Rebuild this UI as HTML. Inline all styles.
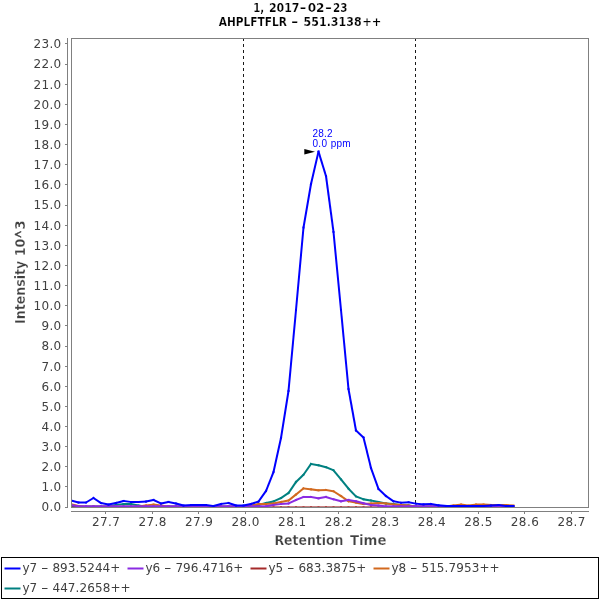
<!DOCTYPE html>
<html lang="en">
<head>
<meta charset="utf-8">
<title>AHPLFTFLR - 551.3138++ chromatogram</title>
<style>
html,body{margin:0;padding:0;background:#ffffff;}
body{width:600px;height:600px;overflow:hidden;}
svg{display:block;}
</style>
</head>
<body>
<svg width="600" height="600" viewBox="0 0 600 600">
<rect x="0" y="0" width="600" height="600" fill="#ffffff"/>
<g font-family="'DejaVu Sans Condensed', 'DejaVu Sans', 'Liberation Sans', sans-serif" font-weight="bold" font-size="12" fill="#000000" stroke="#ffffff" stroke-width="0.2">
<text y="12"><tspan x="253.2" textLength="11" lengthAdjust="spacingAndGlyphs">1,</tspan> <tspan x="268.9" textLength="30.6" lengthAdjust="spacingAndGlyphs">2017</tspan><tspan x="299.6" textLength="7" lengthAdjust="spacingAndGlyphs">-</tspan><tspan x="307.7" textLength="16.8" lengthAdjust="spacingAndGlyphs">02</tspan><tspan x="324.9" textLength="7" lengthAdjust="spacingAndGlyphs">-</tspan><tspan x="333" textLength="14.4" lengthAdjust="spacingAndGlyphs">23</tspan></text>
<text y="25.8"><tspan x="218.7" textLength="68.3" lengthAdjust="spacingAndGlyphs">AHPLFTFLR</tspan> <tspan x="290.9" textLength="7.4" lengthAdjust="spacingAndGlyphs">-</tspan> <tspan x="303.6" textLength="58" lengthAdjust="spacingAndGlyphs">551.3138</tspan><tspan x="362.2" textLength="19.2" lengthAdjust="spacingAndGlyphs">++</tspan></text>
</g>
<g fill="none" stroke="#808080" stroke-width="1" shape-rendering="crispEdges">
<line x1="67.5" y1="38" x2="67.5" y2="508"/>
<line x1="71" y1="511.5" x2="589" y2="511.5"/>
<line x1="65" y1="507.5" x2="67" y2="507.5"/>
<line x1="65" y1="486.5" x2="67" y2="486.5"/>
<line x1="65" y1="466.5" x2="67" y2="466.5"/>
<line x1="65" y1="446.5" x2="67" y2="446.5"/>
<line x1="65" y1="426.5" x2="67" y2="426.5"/>
<line x1="65" y1="406.5" x2="67" y2="406.5"/>
<line x1="65" y1="386.5" x2="67" y2="386.5"/>
<line x1="65" y1="366.5" x2="67" y2="366.5"/>
<line x1="65" y1="346.5" x2="67" y2="346.5"/>
<line x1="65" y1="325.5" x2="67" y2="325.5"/>
<line x1="65" y1="305.5" x2="67" y2="305.5"/>
<line x1="65" y1="285.5" x2="67" y2="285.5"/>
<line x1="65" y1="265.5" x2="67" y2="265.5"/>
<line x1="65" y1="245.5" x2="67" y2="245.5"/>
<line x1="65" y1="225.5" x2="67" y2="225.5"/>
<line x1="65" y1="205.5" x2="67" y2="205.5"/>
<line x1="65" y1="184.5" x2="67" y2="184.5"/>
<line x1="65" y1="164.5" x2="67" y2="164.5"/>
<line x1="65" y1="144.5" x2="67" y2="144.5"/>
<line x1="65" y1="124.5" x2="67" y2="124.5"/>
<line x1="65" y1="104.5" x2="67" y2="104.5"/>
<line x1="65" y1="84.5" x2="67" y2="84.5"/>
<line x1="65" y1="64.5" x2="67" y2="64.5"/>
<line x1="65" y1="43.5" x2="67" y2="43.5"/>
<line x1="105.5" y1="512" x2="105.5" y2="514"/>
<line x1="152.5" y1="512" x2="152.5" y2="514"/>
<line x1="198.5" y1="512" x2="198.5" y2="514"/>
<line x1="245.5" y1="512" x2="245.5" y2="514"/>
<line x1="292.5" y1="512" x2="292.5" y2="514"/>
<line x1="338.5" y1="512" x2="338.5" y2="514"/>
<line x1="385.5" y1="512" x2="385.5" y2="514"/>
<line x1="431.5" y1="512" x2="431.5" y2="514"/>
<line x1="478.5" y1="512" x2="478.5" y2="514"/>
<line x1="524.5" y1="512" x2="524.5" y2="514"/>
<line x1="571.5" y1="512" x2="571.5" y2="514"/>
</g>
<g font-family="'DejaVu Sans', 'Liberation Sans', sans-serif" font-size="12" fill="#404040">
<text x="41.4" y="511" textLength="19.8" lengthAdjust="spacing">0.0</text>
<text x="41.4" y="491" textLength="19.8" lengthAdjust="spacing">1.0</text>
<text x="41.4" y="471" textLength="19.8" lengthAdjust="spacing">2.0</text>
<text x="41.4" y="451" textLength="19.8" lengthAdjust="spacing">3.0</text>
<text x="41.4" y="431" textLength="19.8" lengthAdjust="spacing">4.0</text>
<text x="41.4" y="411" textLength="19.8" lengthAdjust="spacing">5.0</text>
<text x="41.4" y="391" textLength="19.8" lengthAdjust="spacing">6.0</text>
<text x="41.4" y="371" textLength="19.8" lengthAdjust="spacing">7.0</text>
<text x="41.4" y="350" textLength="19.8" lengthAdjust="spacing">8.0</text>
<text x="41.4" y="330" textLength="19.8" lengthAdjust="spacing">9.0</text>
<text x="33.4" y="310" textLength="27.8" lengthAdjust="spacing">10.0</text>
<text x="33.4" y="290" textLength="27.8" lengthAdjust="spacing">11.0</text>
<text x="33.4" y="270" textLength="27.8" lengthAdjust="spacing">12.0</text>
<text x="33.4" y="250" textLength="27.8" lengthAdjust="spacing">13.0</text>
<text x="33.4" y="230" textLength="27.8" lengthAdjust="spacing">14.0</text>
<text x="33.4" y="209" textLength="27.8" lengthAdjust="spacing">15.0</text>
<text x="33.4" y="189" textLength="27.8" lengthAdjust="spacing">16.0</text>
<text x="33.4" y="169" textLength="27.8" lengthAdjust="spacing">17.0</text>
<text x="33.4" y="149" textLength="27.8" lengthAdjust="spacing">18.0</text>
<text x="33.4" y="129" textLength="27.8" lengthAdjust="spacing">19.0</text>
<text x="33.4" y="109" textLength="27.8" lengthAdjust="spacing">20.0</text>
<text x="33.4" y="89" textLength="27.8" lengthAdjust="spacing">21.0</text>
<text x="33.4" y="68" textLength="27.8" lengthAdjust="spacing">22.0</text>
<text x="33.4" y="48" textLength="27.8" lengthAdjust="spacing">23.0</text>
<text x="91.9" y="526" textLength="28" lengthAdjust="spacing">27.7</text>
<text x="138.4" y="526" textLength="28" lengthAdjust="spacing">27.8</text>
<text x="185.0" y="526" textLength="28" lengthAdjust="spacing">27.9</text>
<text x="231.5" y="526" textLength="28" lengthAdjust="spacing">28.0</text>
<text x="278.1" y="526" textLength="28" lengthAdjust="spacing">28.1</text>
<text x="324.7" y="526" textLength="28" lengthAdjust="spacing">28.2</text>
<text x="371.2" y="526" textLength="28" lengthAdjust="spacing">28.3</text>
<text x="417.7" y="526" textLength="28" lengthAdjust="spacing">28.4</text>
<text x="464.3" y="526" textLength="28" lengthAdjust="spacing">28.5</text>
<text x="510.8" y="526" textLength="28" lengthAdjust="spacing">28.6</text>
<text x="557.4" y="526" textLength="28" lengthAdjust="spacing">28.7</text>
</g>
<g font-family="'DejaVu Sans Condensed', 'DejaVu Sans', 'Liberation Sans', sans-serif" font-weight="bold" font-size="14" fill="#404040" stroke="#ffffff" stroke-width="0.25">
<text y="544.7"><tspan x="274.5" textLength="69" lengthAdjust="spacingAndGlyphs">Retention</tspan> <tspan x="350" textLength="36.5" lengthAdjust="spacingAndGlyphs">Time</tspan></text>
<text transform="translate(25.2,324) rotate(-90)"><tspan x="0" y="0" textLength="85.2" lengthAdjust="spacingAndGlyphs">Intensity 10</tspan><tspan x="85.4" y="5.6" font-size="22" font-weight="normal" stroke="#404040" stroke-width="0.5" textLength="8.2" lengthAdjust="spacingAndGlyphs">^</tspan><tspan x="94.2" y="0" textLength="9.6" lengthAdjust="spacingAndGlyphs">3</tspan></text>
</g>
<g stroke="#1a1a1a" stroke-width="1" stroke-dasharray="3 3" shape-rendering="crispEdges">
<line x1="243.5" y1="38" x2="243.5" y2="507"/>
<line x1="415.5" y1="38" x2="415.5" y2="507"/>
</g>
<clipPath id="pc"><rect x="71" y="38" width="518" height="469"/></clipPath>
<g fill="none" stroke-width="2" stroke-linejoin="miter" stroke-linecap="square" clip-path="url(#pc)">
<g stroke="#008080">
<path d="M71 506.6L78.5 506.6"/>
<path d="M78.5 506.6L86 506.6"/>
<path d="M86 506.6L93.5 506.6"/>
<path d="M93.5 506.6L101 506.6"/>
<path d="M101 506.6L108.5 506.6"/>
<path d="M108.5 506.6L116 505"/>
<path d="M116 505L123.5 504"/>
<path d="M123.5 504L131 504"/>
<path d="M131 504L138.5 505.5"/>
<path d="M138.5 505.5L146 506.6"/>
<path d="M146 506.6L153.5 506.6"/>
<path d="M153.5 506.6L161 506.6"/>
<path d="M161 506.6L168.5 506.6"/>
<path d="M168.5 506.6L176 506.6"/>
<path d="M176 506.6L183.5 506.6"/>
<path d="M183.5 506.6L191 506.6"/>
<path d="M191 506.6L198.5 506.6"/>
<path d="M198.5 506.6L206 506.6"/>
<path d="M206 506.6L213.5 506.6"/>
<path d="M213.5 506.6L221 506.6"/>
<path d="M221 506.6L228.5 506.6"/>
<path d="M228.5 506.6L236 506.6"/>
<path d="M236 506.6L243.5 506.6"/>
<path d="M243.5 506.6L251 506.6"/>
<path d="M251 506.6L258.5 505"/>
<path d="M258.5 505L266 503"/>
<path d="M266 503L273.5 501.5"/>
<path d="M273.5 501.5L281 498"/>
<path d="M281 498L288.5 493"/>
<path d="M288.5 493L296 482"/>
<path d="M296 482L303.5 474.7"/>
<path d="M303.5 474.7L311 464"/>
<path d="M311 464L318.5 465.3"/>
<path d="M318.5 465.3L326 467.3"/>
<path d="M326 467.3L333.5 470.3"/>
<path d="M333.5 470.3L341 479.3"/>
<path d="M341 479.3L348.5 488.7"/>
<path d="M348.5 488.7L356 496.4"/>
<path d="M356 496.4L363.5 499.3"/>
<path d="M363.5 499.3L371 500.5"/>
<path d="M371 500.5L378.5 502"/>
<path d="M378.5 502L386 503.5"/>
<path d="M386 503.5L393.5 504"/>
<path d="M393.5 504L401 505"/>
<path d="M401 505L408.5 505.5"/>
<path d="M408.5 505.5L416 506.6"/>
<path d="M416 506.6L423.5 506.6"/>
<path d="M423.5 506.6L431 506.6"/>
<path d="M431 506.6L438.5 506.6"/>
<path d="M438.5 506.6L446 506.6"/>
<path d="M446 506.6L453.5 506.6"/>
<path d="M453.5 506.6L461 506.6"/>
<path d="M461 506.6L468.5 506.6"/>
<path d="M468.5 506.6L476 506.6"/>
<path d="M476 506.6L483.5 506.6"/>
<path d="M483.5 506.6L491 506.6"/>
<path d="M491 506.6L498.5 506.6"/>
<path d="M498.5 506.6L506 506.6"/>
<path d="M506 506.6L513.5 506.6"/>
</g>
<g stroke="#d2691e">
<path d="M71 504.2L78.5 506"/>
<path d="M78.5 506L86 506.6"/>
<path d="M86 506.6L93.5 506.6"/>
<path d="M93.5 506.6L101 506.6"/>
<path d="M101 506.6L108.5 506.6"/>
<path d="M108.5 506.6L116 506.6"/>
<path d="M116 506.6L123.5 506.6"/>
<path d="M123.5 506.6L131 506.6"/>
<path d="M131 506.6L138.5 506.6"/>
<path d="M138.5 506.6L146 505.5"/>
<path d="M146 505.5L153.5 504.5"/>
<path d="M153.5 504.5L161 505.5"/>
<path d="M161 505.5L168.5 506.6"/>
<path d="M168.5 506.6L176 506.6"/>
<path d="M176 506.6L183.5 506.6"/>
<path d="M183.5 506.6L191 506.6"/>
<path d="M191 506.6L198.5 506.6"/>
<path d="M198.5 506.6L206 506.6"/>
<path d="M206 506.6L213.5 506.6"/>
<path d="M213.5 506.6L221 506.6"/>
<path d="M221 506.6L228.5 506.6"/>
<path d="M228.5 506.6L236 506.6"/>
<path d="M236 506.6L243.5 506.6"/>
<path d="M243.5 506.6L251 505.5"/>
<path d="M251 505.5L258.5 504"/>
<path d="M258.5 504L266 504"/>
<path d="M266 504L273.5 503.5"/>
<path d="M273.5 503.5L281 502"/>
<path d="M281 502L288.5 500.5"/>
<path d="M288.5 500.5L296 494.5"/>
<path d="M296 494.5L303.5 488.4"/>
<path d="M303.5 488.4L311 489.3"/>
<path d="M311 489.3L318.5 490.3"/>
<path d="M318.5 490.3L326 490"/>
<path d="M326 490L333.5 491.3"/>
<path d="M333.5 491.3L341 496"/>
<path d="M341 496L348.5 501.3"/>
<path d="M348.5 501.3L356 502.7"/>
<path d="M356 502.7L363.5 504"/>
<path d="M363.5 504L371 503.5"/>
<path d="M371 503.5L378.5 503"/>
<path d="M378.5 503L386 503.5"/>
<path d="M386 503.5L393.5 504.5"/>
<path d="M393.5 504.5L401 505"/>
<path d="M401 505L408.5 505.5"/>
<path d="M408.5 505.5L416 506.6"/>
<path d="M416 506.6L423.5 506.6"/>
<path d="M423.5 506.6L431 506.6"/>
<path d="M431 506.6L438.5 506.6"/>
<path d="M438.5 506.6L446 506.6"/>
<path d="M446 506.6L453.5 505.5"/>
<path d="M453.5 505.5L461 504.5"/>
<path d="M461 504.5L468.5 505.5"/>
<path d="M468.5 505.5L476 504.5"/>
<path d="M476 504.5L483.5 504.5"/>
<path d="M483.5 504.5L491 505"/>
<path d="M491 505L498.5 505"/>
<path d="M498.5 505L506 505"/>
<path d="M506 505L513.5 505.5"/>
</g>
<g stroke="#a52a2a">
<path d="M71 507.4L78.5 507.4"/>
<path d="M78.5 507.4L86 507.4"/>
<path d="M86 507.4L93.5 507.4"/>
<path d="M93.5 507.4L101 507.4"/>
<path d="M101 507.4L108.5 507.4"/>
<path d="M108.5 507.4L116 507.4"/>
<path d="M116 507.4L123.5 507.4"/>
<path d="M123.5 507.4L131 507.4"/>
<path d="M131 507.4L138.5 507.4"/>
<path d="M138.5 507.4L146 507.4"/>
<path d="M146 507.4L153.5 507.4"/>
<path d="M153.5 507.4L161 507.4"/>
<path d="M161 507.4L168.5 507.4"/>
<path d="M168.5 507.4L176 507.4"/>
<path d="M176 507.4L183.5 507.4"/>
<path d="M183.5 507.4L191 507.4"/>
<path d="M191 507.4L198.5 507.4"/>
<path d="M198.5 507.4L206 507.4"/>
<path d="M206 507.4L213.5 507.4"/>
<path d="M213.5 507.4L221 507.4"/>
<path d="M221 507.4L228.5 507.4"/>
<path d="M228.5 507.4L236 507.4"/>
<path d="M236 507.4L243.5 507.4"/>
<path d="M243.5 507.4L251 507.4"/>
<path d="M251 507.4L258.5 507.4"/>
<path d="M258.5 507.4L266 507.4"/>
<path d="M266 507.4L273.5 507.4"/>
<path d="M273.5 507.4L281 507.4"/>
<path d="M281 507.4L288.5 507.4"/>
<path d="M288.5 507.4L296 507.4"/>
<path d="M296 507.4L303.5 507.4"/>
<path d="M303.5 507.4L311 507.4"/>
<path d="M311 507.4L318.5 507.4"/>
<path d="M318.5 507.4L326 507.4"/>
<path d="M326 507.4L333.5 507.4"/>
<path d="M333.5 507.4L341 507.4"/>
<path d="M341 507.4L348.5 507.4"/>
<path d="M348.5 507.4L356 507.4"/>
<path d="M356 507.4L363.5 507.4"/>
<path d="M363.5 507.4L371 507.4"/>
<path d="M371 507.4L378.5 507.4"/>
<path d="M378.5 507.4L386 507.4"/>
<path d="M386 507.4L393.5 507.4"/>
<path d="M393.5 507.4L401 507.4"/>
<path d="M401 507.4L408.5 507.4"/>
<path d="M408.5 507.4L416 507.4"/>
<path d="M416 507.4L423.5 507.4"/>
<path d="M423.5 507.4L431 507.4"/>
<path d="M431 507.4L438.5 507.4"/>
<path d="M438.5 507.4L446 507.4"/>
<path d="M446 507.4L453.5 507.4"/>
<path d="M453.5 507.4L461 507.4"/>
<path d="M461 507.4L468.5 507.4"/>
<path d="M468.5 507.4L476 507.4"/>
<path d="M476 507.4L483.5 507.4"/>
<path d="M483.5 507.4L491 507.4"/>
<path d="M491 507.4L498.5 507.4"/>
<path d="M498.5 507.4L506 507.4"/>
<path d="M506 507.4L513.5 507.4"/>
</g>
<g stroke="#8a2be2">
<path d="M71 505L78.5 506.3"/>
<path d="M78.5 506.3L86 506.3"/>
<path d="M86 506.3L93.5 506.3"/>
<path d="M93.5 506.3L101 506.3"/>
<path d="M101 506.3L108.5 506.3"/>
<path d="M108.5 506.3L116 506.3"/>
<path d="M116 506.3L123.5 506.3"/>
<path d="M123.5 506.3L131 506.3"/>
<path d="M131 506.3L138.5 506.3"/>
<path d="M138.5 506.3L146 506.3"/>
<path d="M146 506.3L153.5 506.3"/>
<path d="M153.5 506.3L161 506.3"/>
<path d="M161 506.3L168.5 506.3"/>
<path d="M168.5 506.3L176 506.3"/>
<path d="M176 506.3L183.5 506.3"/>
<path d="M183.5 506.3L191 506.3"/>
<path d="M191 506.3L198.5 506.3"/>
<path d="M198.5 506.3L206 506.3"/>
<path d="M206 506.3L213.5 506.3"/>
<path d="M213.5 506.3L221 506.3"/>
<path d="M221 506.3L228.5 506.3"/>
<path d="M228.5 506.3L236 506.3"/>
<path d="M236 506.3L243.5 506.3"/>
<path d="M243.5 506.3L251 506.3"/>
<path d="M251 506.3L258.5 506.3"/>
<path d="M258.5 506.3L266 506.3"/>
<path d="M266 506.3L273.5 505"/>
<path d="M273.5 505L281 504"/>
<path d="M281 504L288.5 503.5"/>
<path d="M288.5 503.5L296 500"/>
<path d="M296 500L303.5 497"/>
<path d="M303.5 497L311 497"/>
<path d="M311 497L318.5 498.3"/>
<path d="M318.5 498.3L326 497"/>
<path d="M326 497L333.5 499.3"/>
<path d="M333.5 499.3L341 501.3"/>
<path d="M341 501.3L348.5 500"/>
<path d="M348.5 500L356 501.3"/>
<path d="M356 501.3L363.5 503.3"/>
<path d="M363.5 503.3L371 505"/>
<path d="M371 505L378.5 505.5"/>
<path d="M378.5 505.5L386 506.3"/>
<path d="M386 506.3L393.5 506.3"/>
<path d="M393.5 506.3L401 506.3"/>
<path d="M401 506.3L408.5 506.3"/>
<path d="M408.5 506.3L416 506.3"/>
<path d="M416 506.3L423.5 506.3"/>
<path d="M423.5 506.3L431 506.3"/>
<path d="M431 506.3L438.5 506.3"/>
<path d="M438.5 506.3L446 506.3"/>
<path d="M446 506.3L453.5 506.3"/>
<path d="M453.5 506.3L461 506.3"/>
<path d="M461 506.3L468.5 506.3"/>
<path d="M468.5 506.3L476 506.3"/>
<path d="M476 506.3L483.5 506.3"/>
<path d="M483.5 506.3L491 506.3"/>
<path d="M491 506.3L498.5 506.3"/>
<path d="M498.5 506.3L506 506.3"/>
<path d="M506 506.3L513.5 506.3"/>
</g>
<g stroke="#0000ff">
<path d="M71 500.5L78.5 502.5"/>
<path d="M78.5 502.5L86 502.5"/>
<path d="M86 502.5L93.5 498"/>
<path d="M93.5 498L101 503"/>
<path d="M101 503L108.5 504.5"/>
<path d="M108.5 504.5L116 503"/>
<path d="M116 503L123.5 501"/>
<path d="M123.5 501L131 502"/>
<path d="M131 502L138.5 502"/>
<path d="M138.5 502L146 501.5"/>
<path d="M146 501.5L153.5 500"/>
<path d="M153.5 500L161 503.5"/>
<path d="M161 503.5L168.5 502"/>
<path d="M168.5 502L176 503.5"/>
<path d="M176 503.5L183.5 505.5"/>
<path d="M183.5 505.5L191 505"/>
<path d="M191 505L198.5 505"/>
<path d="M198.5 505L206 505"/>
<path d="M206 505L213.5 506"/>
<path d="M213.5 506L221 504"/>
<path d="M221 504L228.5 503"/>
<path d="M228.5 503L236 505.5"/>
<path d="M236 505.5L243.5 505.5"/>
<path d="M243.5 505.5L251 504"/>
<path d="M251 504L258.5 501.5"/>
<path d="M258.5 501.5L266 491"/>
<path d="M266 491L273.5 472"/>
<path d="M273.5 472L281 438"/>
<path d="M281 438L288.5 391"/>
<path d="M288.5 391L296 310"/>
<path d="M296 310L303.5 227.5"/>
<path d="M303.5 227.5L311 184"/>
<path d="M311 184L318.5 151.6"/>
<path d="M318.5 151.6L326 176"/>
<path d="M326 176L333.5 232"/>
<path d="M333.5 232L341 310"/>
<path d="M341 310L348.5 389"/>
<path d="M348.5 389L356 430.5"/>
<path d="M356 430.5L363.5 437.5"/>
<path d="M363.5 437.5L371 468"/>
<path d="M371 468L378.5 489"/>
<path d="M378.5 489L386 496"/>
<path d="M386 496L393.5 501.3"/>
<path d="M393.5 501.3L401 502.7"/>
<path d="M401 502.7L408.5 502.3"/>
<path d="M408.5 502.3L416 503.7"/>
<path d="M416 503.7L423.5 504.3"/>
<path d="M423.5 504.3L431 504"/>
<path d="M431 504L438.5 505.3"/>
<path d="M438.5 505.3L446 506"/>
<path d="M446 506L453.5 506"/>
<path d="M453.5 506L461 506"/>
<path d="M461 506L468.5 506"/>
<path d="M468.5 506L476 506"/>
<path d="M476 506L483.5 506"/>
<path d="M483.5 506L491 505.5"/>
<path d="M491 505.5L498.5 505"/>
<path d="M498.5 505L506 506"/>
<path d="M506 506L513.5 506"/>
</g>
</g>
<rect x="71.5" y="38.5" width="517" height="469" fill="none" stroke="#808080" stroke-width="1" shape-rendering="crispEdges"/>
<polygon points="304.3,149 315,151.7 304.3,154.4" fill="#000000"/>
<g font-family="'Liberation Sans', sans-serif" font-size="10" fill="#0000ff">
<text x="312.5" y="136.5" textLength="20" lengthAdjust="spacing">28.2</text>
<text y="147.3"><tspan x="312.5" textLength="14.5" lengthAdjust="spacing">0.0</tspan> <tspan x="330.7" textLength="19.8" lengthAdjust="spacing">ppm</tspan></text>
</g>
<rect x="1.5" y="557.5" width="597" height="41" fill="#ffffff" stroke="#000000" stroke-width="1" shape-rendering="crispEdges"/>
<g font-family="'DejaVu Sans', 'Liberation Sans', sans-serif" font-size="12" fill="#404040">
<line x1="4.5" y1="568.5" x2="20.5" y2="568.5" stroke="#0000ff" stroke-width="2"/>
<text y="571.9"><tspan x="22.4">y7</tspan> <tspan x="40.9" textLength="7.5" lengthAdjust="spacingAndGlyphs">-</tspan> <tspan x="52.4" textLength="68.0" lengthAdjust="spacing">893.5244+</tspan></text>
<line x1="127.5" y1="568.5" x2="143.5" y2="568.5" stroke="#8a2be2" stroke-width="2"/>
<text y="571.9"><tspan x="145.4">y6</tspan> <tspan x="163.9" textLength="7.5" lengthAdjust="spacingAndGlyphs">-</tspan> <tspan x="175.4" textLength="68.0" lengthAdjust="spacing">796.4716+</tspan></text>
<line x1="250.5" y1="568.5" x2="266.5" y2="568.5" stroke="#a52a2a" stroke-width="2"/>
<text y="571.9"><tspan x="268.4">y5</tspan> <tspan x="286.9" textLength="7.5" lengthAdjust="spacingAndGlyphs">-</tspan> <tspan x="298.4" textLength="68.0" lengthAdjust="spacing">683.3875+</tspan></text>
<line x1="373.5" y1="568.5" x2="389.5" y2="568.5" stroke="#d2691e" stroke-width="2"/>
<text y="571.9"><tspan x="391.4">y8</tspan> <tspan x="409.9" textLength="7.5" lengthAdjust="spacingAndGlyphs">-</tspan> <tspan x="421.4" textLength="78.2" lengthAdjust="spacing">515.7953++</tspan></text>
<line x1="4.5" y1="588.5" x2="20.5" y2="588.5" stroke="#008080" stroke-width="2"/>
<text y="591.9"><tspan x="22.4">y7</tspan> <tspan x="40.9" textLength="7.5" lengthAdjust="spacingAndGlyphs">-</tspan> <tspan x="52.4" textLength="78.2" lengthAdjust="spacing">447.2658++</tspan></text>
</g>
</svg>
</body>
</html>
